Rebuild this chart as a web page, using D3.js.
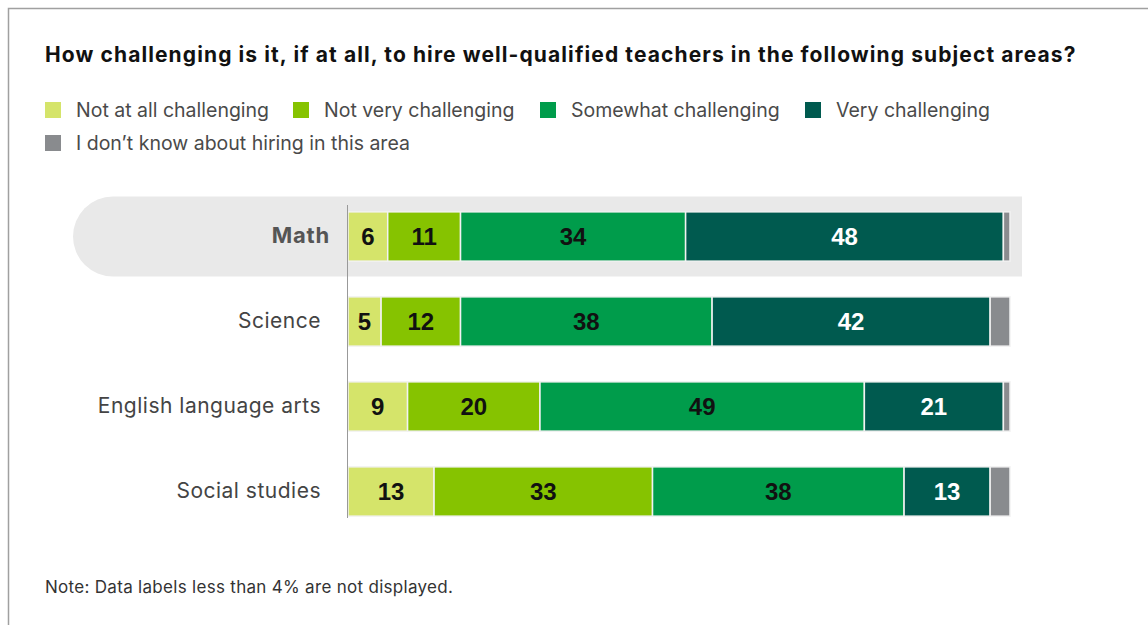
<!DOCTYPE html>
<html lang="en">

<head>
  <meta charset="UTF-8">
  <title>Hiring challenge by subject</title>
  <script src="https://d3js.org/d3.v7.min.js"></script>
  <style>
    html,
    body {
      padding: 0;
      margin: 0;
      background: #fff;
    }

    text {
      font-family: Inter, "Noto Sans", sans-serif;
    }
  </style>
</head>

<body>
  <script>
    const width = 1148;
    const height = 625;

    // data
    const subjects = ["Math", "Science", "English language arts", "Social studies"];
    const seriesNames = ["Not at all challenging", "Not very challenging", "Somewhat challenging", "Very challenging", "I don\u2019t know about hiring in this area"];
    const notAtAll = [6, 5, 9, 13];
    const notVery = [11, 12, 20, 33];
    const somewhat = [34, 38, 49, 38];
    const very = [48, 42, 21, 13];
    const dontKnow = [1, 3, 1, 3];
    const colors = ["#d5e46a", "#86c300", "#009c4b", "#005a4f", "#898b8e"];
    const labelColors = ["#111", "#111", "#111", "#fff", "#fff"];
    const highlighted = "Math";

    const rows = subjects.map((s, i) => ({
      subject: s,
      values: [notAtAll[i], notVery[i], somewhat[i], very[i], dontKnow[i]]
    }));

    const svg = d3.select("body").append("svg")
      .attr("width", width)
      .attr("height", height);

    // frame (only top and left edges visible)
    svg.append("path")
      .attr("d", "M8.5,625 V8.5 H1148")
      .attr("fill", "none")
      .attr("stroke", "#a0a0a0")
      .attr("stroke-width", 1.5);

    svg.append("text")
      .attr("x", 45)
      .attr("y", 62)
      .attr("font-size", 21)
      .attr("letter-spacing", 1.1)
      .attr("font-weight", 700)
      .attr("fill", "#111")
      .text("How challenging is it, if at all, to hire well-qualified teachers in the following subject areas?");

    // legend
    const legendPos = [[45, 110], [293, 110], [540, 110], [805, 110], [45, 143]];
    const legend = svg.append("g").selectAll("g")
      .data(seriesNames)
      .join("g")
      .attr("transform", (d, i) => `translate(${legendPos[i][0]},${legendPos[i][1]})`);
    legend.append("rect")
      .attr("x", 0).attr("y", -8)
      .attr("width", 16).attr("height", 16)
      .attr("fill", (d, i) => colors[i]);
    legend.append("text")
      .attr("x", 31)
      .attr("dy", "0.35em")
      .attr("font-size", 19.5)
      .attr("fill", "#4a4a4a")
      .text(d => d);

    const x = d3.scaleLinear().domain([0, 100]).range([348, 1010]);
    const y = d3.scaleBand().domain(subjects).range([194, 534]).paddingInner(0.42).paddingOuter(0.21);

    // highlight band behind Math
    const hy = y(highlighted) + y.bandwidth() / 2;
    const hr = 40;
    svg.append("path")
      .attr("d", `M1022,${hy - hr} H${73 + hr} A${hr},${hr} 0 0 0 ${73 + hr},${hy + hr} H1022 Z`)
      .attr("fill", "#e9e9e9");

    const row = svg.append("g").selectAll("g")
      .data(rows)
      .join("g")
      .attr("transform", d => `translate(0,${y(d.subject)})`);

    row.selectAll("rect")
      .data(d => {
        let acc = 0;
        return d.values.map((v, i) => {
          const seg = { i, v, x0: acc, x1: acc + v };
          acc += v;
          return seg;
        });
      })
      .join("rect")
      .attr("x", d => x(d.x0))
      .attr("width", d => x(d.x1) - x(d.x0))
      .attr("height", y.bandwidth())
      .attr("fill", d => colors[d.i])
      .attr("stroke", "#f2f2f2")
      .attr("stroke-width", 1.5);

    row.selectAll("text.val")
      .data(d => {
        let acc = 0;
        return d.values.map((v, i) => {
          const seg = { i, v, mid: acc + v / 2 };
          acc += v;
          return seg;
        }).filter(s => s.v >= 4);
      })
      .join("text")
      .attr("class", "val")
      .attr("x", d => x(d.mid))
      .attr("y", y.bandwidth() / 2)
      .attr("dy", "0.36em")
      .attr("text-anchor", "middle")
      .attr("font-size", 24)
      .attr("font-weight", 700)
      .style("font-family", "'Liberation Sans', Arial, sans-serif")
      .attr("fill", d => labelColors[d.i])
      .text(d => d.v);

    row.append("text")
      .attr("x", d => d.subject === highlighted ? 330 : 321)
      .attr("y", y.bandwidth() / 2)
      .attr("dy", "0.3em")
      .attr("text-anchor", "end")
      .attr("font-size", d => d.subject === highlighted ? 22 : 21)
      .attr("letter-spacing", d => d.subject === highlighted ? 0.8 : 0.5)
      .attr("font-weight", d => d.subject === highlighted ? 700 : 400)
      .attr("fill", d => d.subject === highlighted ? "#555" : "#444")
      .text(d => d.subject);

    // axis baseline
    svg.append("line")
      .attr("x1", 347.5).attr("x2", 347.5)
      .attr("y1", 205).attr("y2", 518)
      .attr("stroke", "#999")
      .attr("stroke-width", 1);

    svg.append("text")
      .attr("x", 45)
      .attr("y", 593)
      .attr("font-size", 17)
      .attr("letter-spacing", 0.3)
      .attr("fill", "#333")
      .text("Note: Data labels less than 4% are not displayed.");
  </script>
</body>

</html>
